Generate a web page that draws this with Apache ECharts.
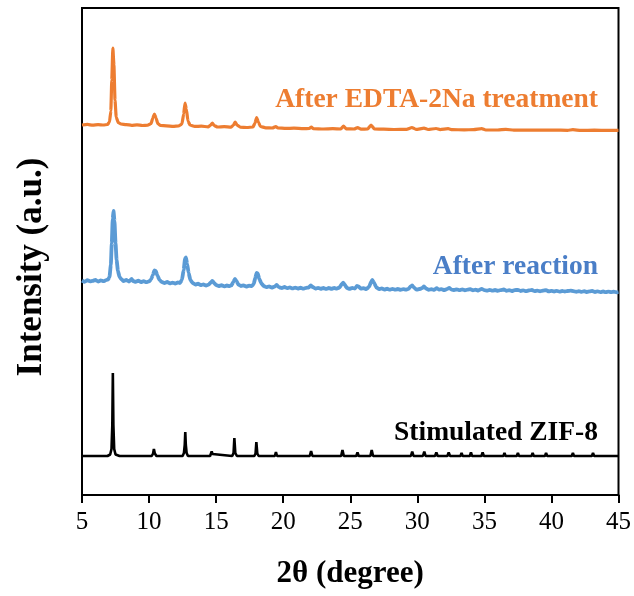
<!DOCTYPE html>
<html>
<head>
<meta charset="utf-8">
<script src="https://cdn.jsdelivr.net/npm/echarts@6/dist/echarts.min.js"></script>
<style>
  html, body { margin: 0; padding: 0; background: #fff; }
  #chart { width: 634px; height: 596px; }
</style>
</head>
<body>
<div id="chart"></div>
<script>
// XRD patterns, stacked with offsets (2θ in degrees, intensity in a.u.)
const xTicks = [5, 10, 15, 20, 25, 30, 35, 40, 45];

const afterEdta = [
  [5.0,370],[5.4,370.6],[5.8,369.8],[6.2,370.4],[6.6,370],[6.9,370.5],[7.05,373],[7.15,384],[7.22,415],[7.3,447],[7.38,430],[7.46,395],[7.55,378],[7.7,372.5],[7.9,371],[8.3,370.4],[8.7,369.7],[9.1,370.2],[9.5,369.5],[9.9,369.8],
  [10.15,371.5],[10.28,377],[10.4,381],[10.52,377],[10.65,371.5],[10.85,369.5],[11.3,369.2],[11.8,368.6],[12.2,369],[12.45,371],[12.58,381],[12.68,392],[12.78,386],[12.9,374],[13.05,370],[13.4,368.6],[13.9,368.8],[14.4,368.2],[14.6,370],[14.72,372],[14.85,369.5],[15.1,368],[15.6,368.4],[16.1,367.8],[16.3,370],[16.42,373],[16.55,370],[16.8,367.8],[17.3,367.5],[17.75,368],[17.9,372],[18.02,377.5],[18.15,373],[18.3,368.5],[18.7,367.2],[19.2,367],[19.45,368.5],[19.6,367],
  [20.2,366.6],[20.8,366.8],[21.5,366.3],[21.95,366.5],[22.1,368],[22.25,366.4],[23,366],[23.7,366.3],[24.3,366],[24.5,369],[24.7,366.2],[25.3,366],[25.55,367.5],[25.8,365.8],[26.3,366],[26.55,370],[26.8,366],[27.5,365.8],[28.3,365.5],[29.2,365.7],[29.6,367.5],[29.9,365.6],
  [30.5,366.8],[30.8,365.5],[31.4,366.5],[31.7,365.4],[32.3,366.3],[32.6,365.3],[33.5,365.2],[34.2,365.3],[34.8,366.3],[35.1,365],[36.0,365],[36.6,365.6],[37.2,364.9],[38.2,365],[39.2,364.8],
  [40.2,364.9],[41.2,364.7],[41.6,365.3],[42.2,364.6],[43.2,364.8],[44.2,364.6],[45,364.7]
];

const afterReaction = [
  [5.0,214.5],[5.2,213.2],[5.4,214.8],[5.6,213.6],[5.8,214.2],[6.0,215],[6.2,213.5],[6.4,214.6],[6.6,213.8],[6.8,214.8],[6.95,215.5],[7.05,218],[7.15,230],[7.22,252],[7.29,276],[7.35,284],[7.42,274],[7.5,252],[7.58,235],[7.68,224],[7.8,218],[7.95,215.5],
  [8.1,214],[8.3,215],[8.5,213.5],[8.7,216],[8.8,214],[9.0,213.2],[9.2,214.4],[9.4,213],[9.6,213.8],[9.8,212.8],[10.0,213.6],[10.15,215.5],[10.28,220],[10.4,224.5],[10.5,224],[10.62,219.5],[10.78,215],[10.95,213],
  [11.15,212],[11.35,213],[11.55,211.6],[11.75,212.4],[11.95,211.5],[12.15,212.5],[12.3,212],[12.45,215],[12.58,225],[12.68,236],[12.75,237.5],[12.84,231],[12.95,222],[13.08,215],[13.25,212],[13.45,210.5],[13.65,211.3],[13.85,209.8],
  [14.05,210.6],[14.25,209.5],[14.45,210.4],[14.6,212.5],[14.72,214],[14.85,212],[15.0,210],[15.2,209],[15.4,209.8],[15.6,208.6],[15.8,209.5],[16.0,208.8],[16.15,209.8],[16.28,213],[16.4,216],[16.52,214],[16.65,210.5],[16.85,209],
  [17.05,209.6],[17.25,208.5],[17.45,209.3],[17.65,208.8],[17.8,211],[17.92,217],[18.02,222],[18.1,221.5],[18.22,216],[18.38,211.5],[18.55,209],[18.75,207.8],[18.95,208.6],[19.15,207.5],[19.35,208.3],[19.52,210],[19.68,207.8],[19.9,207],
  [20.1,208],[20.3,206.8],[20.5,207.6],[20.7,206.6],[20.9,207.4],[21.1,206.5],[21.3,207.3],[21.5,206.4],[21.7,207.2],[21.9,207.5],[22.05,209.5],[22.2,208],[22.4,206.4],[22.6,207.2],[22.8,206.2],[23.0,207],[23.2,206.1],[23.4,207],[23.6,206.2],[23.8,207],
  [24.0,206.4],[24.2,207.5],[24.35,210.5],[24.47,212.3],[24.6,210],[24.75,207],[24.95,206.2],[25.15,207],[25.35,206.5],[25.5,209],[25.62,208.5],[25.8,206.3],[26.0,206.8],[26.2,206],[26.4,208],[26.55,213],[26.65,215],[26.78,212],[26.95,207.5],
  [27.15,205.8],[27.35,206.6],[27.55,205.5],[27.75,206.3],[27.95,205.4],[28.15,206.2],[28.35,205.3],[28.55,206],[28.75,205.2],[28.95,205.9],[29.15,205.3],[29.35,206.2],[29.5,208.5],[29.62,209.5],[29.78,207],[29.95,205.3],
  [30.15,206],[30.35,206.8],[30.5,208.5],[30.65,206.5],[30.85,205.2],[31.05,205.9],[31.25,205.1],[31.45,206.8],[31.6,205.4],[31.8,205.8],[32.0,205],[32.2,205.8],[32.38,207.2],[32.55,205.3],[32.75,205],[32.95,205.7],
  [33.15,204.8],[33.35,205.6],[33.55,204.7],[33.75,205.4],[33.95,205.8],[34.15,204.7],[34.35,205.3],[34.55,204.5],[34.8,206.2],[35.0,204.8],[35.2,204.4],[35.4,205.2],[35.6,204.3],[35.8,205],[36.0,204.2],[36.2,204.9],[36.45,205.5],[36.65,204.2],[36.85,204.9],
  [37.05,204],[37.25,204.8],[37.5,205.2],[37.7,204],[37.9,204.6],[38.1,203.8],[38.3,204.5],[38.55,205],[38.75,203.8],[38.95,204.4],[39.15,203.7],[39.35,204.3],[39.6,204.9],[39.8,203.6],
  [40.0,204.2],[40.2,203.5],[40.4,204.1],[40.6,203.4],[40.8,204],[41.0,203.5],[41.2,204],[41.45,204.3],[41.65,203.8],[41.85,203.2],[42.05,203.9],[42.25,203.1],[42.45,203.8],[42.65,203],[42.85,203.6],
  [43.05,204],[43.25,203],[43.45,203.6],[43.65,202.9],[43.85,203.5],[44.05,202.8],[44.25,203.4],[44.45,202.8],[44.65,203.3],[44.85,202.7],[45.0,203]
];

const simulatedZif8 = [
  [5,39],[6.9,39],[7.1,40.5],[7.2,46],[7.26,70],[7.3,122],[7.34,70],[7.4,46],[7.5,40.5],[7.8,39],
  [10.2,39],[10.3,41.5],[10.36,46],[10.43,41.5],[10.55,39],
  [12.5,39],[12.6,42],[12.66,50],[12.7,63],[12.74,50],[12.8,42],[12.9,39],
  [14.55,39],[14.62,41],[14.67,43.5],[14.73,41],[14.8,39],
  [16.2,39],[16.3,42],[16.36,57],[16.43,42],[16.55,39],
  [17.85,39],[17.94,41.5],[18.0,53],[18.07,41.5],[18.17,39],
  [19.38,39],[19.46,43],[19.54,39],
  [21.98,39],[22.08,44],[22.18,39],
  [24.32,39],[24.42,45],[24.52,39],
  [25.45,39],[25.54,42.5],[25.63,39],
  [26.5,39],[26.6,45],[26.7,39],
  [29.52,39],[29.62,43.5],[29.72,39],
  [30.42,39],[30.52,43.5],[30.62,39],
  [31.32,39],[31.42,42.5],[31.52,39],
  [32.24,39],[32.34,42.5],[32.44,39],
  [33.22,39],[33.3,42],[33.38,39],
  [33.92,39],[34.0,42.5],[34.08,39],
  [34.78,39],[34.87,42.5],[34.96,39],
  [36.42,39],[36.5,42],[36.58,39],
  [37.42,39],[37.5,42],[37.58,39],
  [38.52,39],[38.6,42],[38.68,39],
  [39.52,39],[39.6,42],[39.68,39],
  [41.52,39],[41.6,42],[41.68,39],
  [43.02,39],[43.1,42],[43.18,39],
  [45,39]
];

const seriesNames = ['After EDTA-2Na treatment', 'After reaction', 'Stimulated ZIF-8'];
const lineColors = ['#ED7D31', '#5B9BD5', '#000000'];
const labelColors = ['#ED7D31', '#4A7EC7', '#000000'];

const serif = "'Liberation Serif', 'Times New Roman', serif";
const chart = echarts.init(document.getElementById('chart'), null, { renderer: 'canvas' });

const patterns = [afterEdta, afterReaction, simulatedZif8];
const widths = [3.2, 3.8, 2.6];

chart.setOption({
  animation: false,
  backgroundColor: '#fff',
  grid: {
    left: 82, right: 15, top: 8, bottom: 101,
    show: true, borderColor: '#000', borderWidth: 2
  },
  xAxis: {
    type: 'value', min: xTicks[0], max: xTicks[xTicks.length - 1], interval: 5,
    axisLine: { show: true, lineStyle: { color: '#000', width: 2 } },
    axisTick: { show: true, inside: false, length: 8, lineStyle: { color: '#000', width: 2 } },
    axisLabel: { color: '#000', fontFamily: serif, fontSize: 25, margin: 15 },
    splitLine: { show: false },
    name: '2θ (degree)', nameLocation: 'middle', nameGap: 63,
    nameTextStyle: { color: '#000', fontFamily: serif, fontSize: 31, fontWeight: 'bold' }
  },
  yAxis: {
    type: 'value', min: 0, max: 487,
    axisLine: { show: true, lineStyle: { color: '#000', width: 2 } },
    axisTick: { show: false }, axisLabel: { show: false }, splitLine: { show: false }
  },
  series: patterns.map((d, i) => ({
    name: seriesNames[i], type: 'line', data: d, showSymbol: false,
    smooth: i === 2 ? false : 0.15, smoothMonotone: 'x',
    lineStyle: { color: lineColors[i], width: widths[i] },
    z: 3 - i
  })),
  graphic: [
    { type: 'text', x: 32, y: 267, rotation: Math.PI / 2,
      style: { text: 'Intensity (a.u.)', fill: '#000', font: "bold 35px " + serif,
               textAlign: 'center', textVerticalAlign: 'middle' } },
    { type: 'text', right: 36, top: 86,
      style: { text: seriesNames[0], fill: labelColors[0], font: "bold 27.5px " + serif } },
    { type: 'text', right: 36, top: 253,
      style: { text: seriesNames[1], fill: labelColors[1], font: "bold 27.5px " + serif } },
    { type: 'text', right: 36, top: 419,
      style: { text: seriesNames[2], fill: labelColors[2], font: "bold 27.5px " + serif } }
  ]
});
</script>
</body>
</html>
